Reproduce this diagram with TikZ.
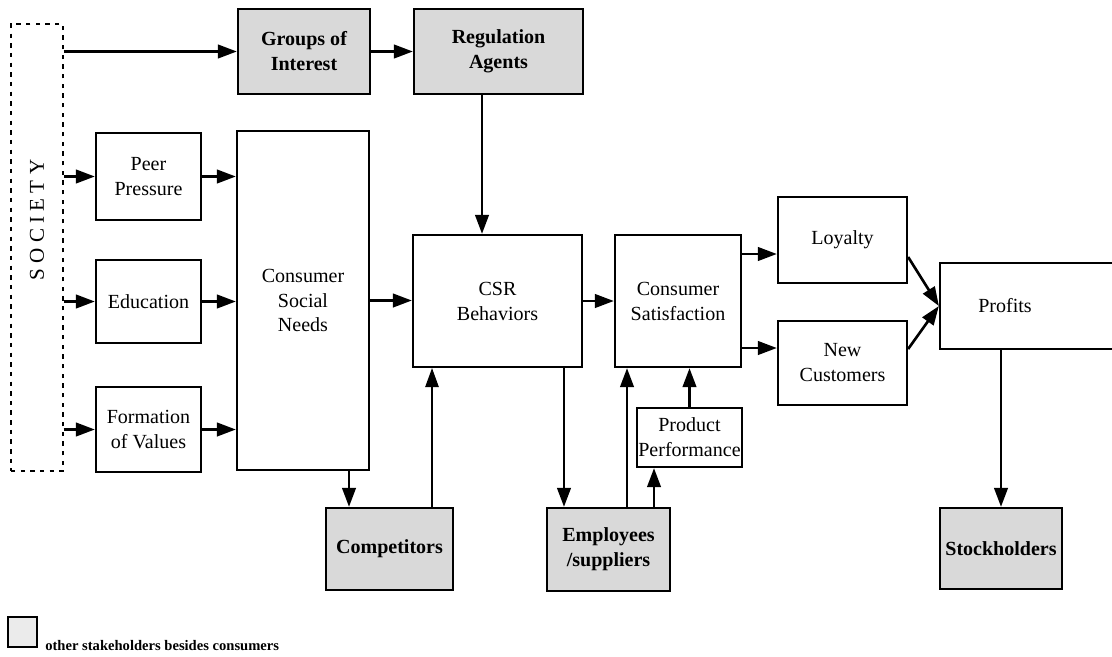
\documentclass[tikz,border=0pt]{standalone}
\usepackage{fontspec}
\setmainfont{Liberation Serif}
\usetikzlibrary{arrows.meta}
\tikzset{
  box/.style={draw, line width=1.3pt, inner sep=0pt, align=center,
    font=\fontsize{11.4}{14.2}\selectfont},
  stake/.style={box, fill=black!15, font=\fontsize{11.4}{14.2}\selectfont\bfseries},
  link/.style={line width=1.5pt, -{Triangle[length=0.38cm,width=0.27cm]}},
}
\begin{document}
\begin{tikzpicture}[x=0.02cm, y=-0.02cm]
      \useasboundingbox (0,0) rectangle (1112,656);
      \path
        (37,247.5) node[draw, dash pattern=on 2.5pt off 3pt, line width=0.7pt,
          minimum width=1.04cm, minimum height=8.94cm] (soc){}
        (37,220) node[rotate=90, font=\fontsize{12}{14}\selectfont] (soctext){S O C I E T Y}
        (304,51.5) node[stake, minimum width=2.64cm, minimum height=1.7cm] (grp){Groups of\\Interest}
        (498.5,51.5) node[stake, minimum width=3.38cm, minimum height=1.7cm] (reg){Regulation\\Agents}
        (148.5,176.5) node[box, minimum width=2.1cm, minimum height=1.74cm] (peer){Peer\\Pressure}
        (148.5,301.5) node[box, minimum width=2.1cm, minimum height=1.66cm] (edu){Education}
        (148.5,429.5) node[box, minimum width=2.1cm, minimum height=1.7cm] (form){Formation\\of Values}
        (303,300.5) node[box, minimum width=2.64cm, minimum height=6.78cm] (csn){Consumer\\Social\\Needs}
        (497.5,301) node[box, minimum width=3.38cm, minimum height=2.64cm] (csr){CSR\\Behaviors}
        (678,301) node[box, minimum width=2.52cm, minimum height=2.64cm] (sat){Consumer\\Satisfaction}
        (842.5,240) node[box, minimum width=2.58cm, minimum height=1.72cm] (loy){Loyalty}
        (842.5,363) node[box, minimum width=2.58cm, minimum height=1.68cm] (new){New\\Customers}
        (1028,306) node[box, minimum width=3.52cm, minimum height=1.72cm] (prof){Profits\hspace*{0.92cm}}
        (689.5,437.5) node[box, minimum width=2.1cm, minimum height=1.18cm] (perf){Product\\Performance}
        (389.5,549) node[stake, minimum width=2.54cm, minimum height=1.64cm] (comp){Competitors}
        (608.5,549.5) node[stake, minimum width=2.46cm, minimum height=1.66cm] (emp){Employees\\/suppliers}
        (1001,548.5) node[stake, minimum width=2.44cm, minimum height=1.62cm] (stk){Stockholders}
        (22.5,632) node[stake, fill=black!8, minimum width=0.58cm, minimum height=0.6cm] (key){}
        (45,650) node[anchor=base west, inner sep=0pt,
          font=\fontsize{8.3}{9}\selectfont\bfseries] (keytext){other stakeholders besides consumers};
      \begin{scope}[link]
        \draw (soc.east |- grp.west) to (grp.west);
        \draw (grp.east) to (reg.west);
        \draw ([xshift=-0.33cm]reg.south) to ([xshift=-0.33cm]reg.south |- csr.north);
        \draw (soc.east |- peer.west) to (peer.west);
        \draw (soc.east |- edu.west) to (edu.west);
        \draw (soc.east |- form.west) to (form.west);
        \draw (peer.east) to (peer.east -| csn.west);
        \draw (edu.east) to (edu.east -| csn.west);
        \draw (form.east) to (form.east -| csn.west);
        \draw (csn.east) to (csn.east -| csr.west);
        \draw (csr.east) to (csr.east -| sat.west);
        \draw ([yshift=-0.28cm]loy.west -| sat.east) to ([yshift=-0.28cm]loy.west);
        \draw ([yshift=0.3cm]new.west -| sat.east) to ([yshift=0.3cm]new.west);
        \draw ([yshift=-0.34cm]loy.east) to (prof.west);
        \draw ([yshift=0.28cm]new.east) to (prof.west);
        \draw (stk.north |- prof.south) to (stk.north);
        \draw ([xshift=-0.81cm]comp.north |- csn.south) to ([xshift=-0.81cm]comp.north);
        \draw[line width=0.7pt] ([xshift=-1.31cm]csr.south |- comp.north) to ([xshift=-1.31cm]csr.south);
        \draw ([xshift=1.33cm]csr.south) to ([xshift=1.33cm]csr.south |- emp.north);
        \draw ([xshift=-1.02cm]sat.south |- emp.north) to ([xshift=-1.02cm]sat.south);
        \draw ([xshift=-0.71cm]perf.south |- emp.north) to ([xshift=-0.71cm]perf.south);
        \draw (perf.north) to (perf.north |- sat.south);
      \end{scope}
    \end{tikzpicture}
\end{document}
